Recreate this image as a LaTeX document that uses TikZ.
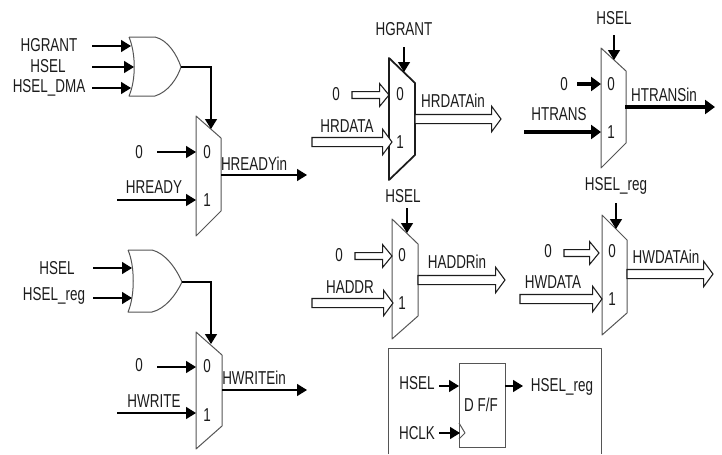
\documentclass[tikz,border=0pt]{standalone}
\usepackage{fontspec}
\setmainfont[FakeStretch=0.72]{Liberation Sans}
\usetikzlibrary{arrows.meta,calc}
\definecolor{ink}{HTML}{1C1C1C}
\definecolor{edge}{HTML}{555555}
\tikzset{
  x=0.75pt,y=-0.75pt,
  lbl/.style={inner sep=0pt,text=ink,font=\fontsize{14pt}{15pt}\selectfont},
  gate/.style={draw=edge,line width=0.75pt,line join=round},
  wire/.style={draw=black,line width=1.1pt,-{Triangle[length=7.5pt,width=9pt]}},
  heavy/.style={draw=black,line width=2.4pt,-{Triangle[length=7.5pt,width=10.5pt]}},
  bus/.style={draw=ink,line width=0.8pt,fill=white,line join=miter},
}
% \mymux{name}{xl}{ytl}{xr}{ytr}{ybr}{ybl}{style}
\newcommand{\mymux}[8]{%
  \draw[gate,#8] (#2,#3) coordinate (#1-tl) -- (#4,#5) -- (#4,#6) -- (#2,#7) -- cycle;
}
% hollow bus arrow between two named coordinates: half shaft, half head, head length (pt)
\newcommand{\busarrow}[5]{%
  \path[bus] let \p1=(#1),\p2=(#2) in
    (\x1,\y1+#3) -- (\x2-#5,\y1+#3) -- (\x2-#5,\y1+#4) -- (\x2,\y1)
    -- (\x2-#5,\y1-#4) -- (\x2-#5,\y1-#3) -- (\x1,\y1-#3) -- cycle;
}
\begin{document}
\begin{tikzpicture}
\useasboundingbox[fill=white] (0,0) rectangle (722,454);

% ---- OR gates
\draw[gate] (129,37) -- (155,37) .. controls (168,40) and (177,55) .. (181,67)
  .. controls (177,79) and (168,92) .. (155,96) -- (129,96)
  .. controls (136,80) and (136,54) .. (129,37);
\draw[gate] (128,250) -- (152,250) .. controls (165,253) and (176,268) .. (182,282)
  .. controls (176,295) and (165,309) .. (152,312) -- (128,312)
  .. controls (135,296) and (135,266) .. (128,250);

% ---- multiplexers
\mymux{mA}{196}{116}{221}{138}{211}{236}{}
\mymux{mB}{389}{58}{415}{83}{155}{180}{draw=ink,line width=1.3pt}
\mymux{mC}{601}{48}{626}{71}{143}{168}{}
\mymux{mD}{392}{219}{418}{244}{316}{339}{}
\mymux{mE}{602}{215}{627}{240}{313}{335}{}
\mymux{mF}{196}{332}{222}{355}{426}{449}{}

% ---- flip-flop box
\draw[gate] (388,454) -- (388,348) -- (601,348) -- (601,454);
\node[draw=edge,line width=0.75pt,minimum width=34.5pt,minimum height=63pt,inner sep=0pt,anchor=north west] (ff) at (459,363) {};
\draw[gate] (459,423) -- (465,433) -- (459,439);

% ---- labels
\node[lbl] (tHGRANT) at (49,45) {HGRANT};
\node[lbl] (tHSELa) at (48,66) {HSEL};
\node[lbl] (tDMA) at (49,88) {HSEL\_DMA};
\node[lbl] (tZa) at (139,152) {0};
\node[lbl] (tHREADY) at (154,187) {HREADY};
\node[lbl] (a0) at (207,152) {0};
\node[lbl] (a1) at (207,200) {1};
\node[lbl] (tRin) at (254,164) {HREADYin};

\node[lbl] (tHSELb) at (57,268) {HSEL};
\node[lbl] (tREG) at (54,296) {HSEL\_reg};
\node[lbl] (tZf) at (139,365) {0};
\node[lbl] (tHWRITE) at (154,401) {HWRITE};
\node[lbl] (f0) at (207,366) {0};
\node[lbl] (f1) at (207,415) {1};
\node[lbl] (tWin) at (254,378) {HWRITEin};

\node[lbl] (tGr) at (404,29) {HGRANT};
\node[lbl] (tZb) at (336,94) {0};
\node[lbl] (tHRD) at (347,126) {HRDATA};
\node[lbl] (b0) at (400,94) {0};
\node[lbl] (b1) at (400,142) {1};
\node[lbl] (tRDin) at (453,101) {HRDATAin};

\node[lbl] (tSc) at (614,18) {HSEL};
\node[lbl] (tZc) at (564,84) {0};
\node[lbl] (tTR) at (559,114) {HTRANS};
\node[lbl] (c0) at (611,84) {0};
\node[lbl] (c1) at (611,132) {1};
\node[lbl] (tTRin) at (664,95) {HTRANSin};

\node[lbl] (tSd) at (403,196) {HSEL};
\node[lbl] (tZd) at (339,255) {0};
\node[lbl] (tAD) at (350,287) {HADDR};
\node[lbl] (d0) at (402,255) {0};
\node[lbl] (d1) at (402,303) {1};
\node[lbl] (tADin) at (457,262) {HADDRin};

\node[lbl] (tSe) at (616,186) {HSEL\_reg};
\node[lbl] (tZe) at (548,251) {0};
\node[lbl] (tWD) at (553,282) {HWDATA};
\node[lbl] (e0) at (612,251) {0};
\node[lbl] (e1) at (612,299) {1};
\node[lbl] (tWDin) at (666,257) {HWDATAin};

\node[lbl] (tFFi) at (417,383) {HSEL};
\node[lbl] (tFFo) at (562,387) {HSEL\_reg};
\node[lbl] (tFF) at (481,405) {D F/F};
\node[lbl] (tCK) at (417,433) {HCLK};

% ---- connector end points
\foreach \n/\x/\y in {
  p1/92/46,q1/131/46,p2/92/67,q2/134/67,p3/92/88,q3/131/88,
  orA/181/67,kA/211/67,sA/211/129,
  a0s/157/152,a0e/196/152,a1s/117/200,a1e/196/200,aos/221/175,aoe/307/175,
  p4/93/268,q4/132/268,p5/93/298,q5/132/298,
  orF/182/282,kF/211/282,sF/211/344,
  f0s/157/367,f0e/196/367,f1s/117/413,f1e/196/413,fos/222/390,foe/307/390,
  bss/404/47,bse/404/72,b0s/352/95,b0e/389/95,b1s/312/142,b1e/392/142,bos/415/119,boe/501/119,
  css/614/35,cse/614/60,c0s/577/84,c0e/601/84,c1s/524/132,c1e/601/132,cos/625/107,coe/715/107,
  dss/407/208,dse/407/233,d0s/355/256,d0e/392/256,d1s/312/303,d1e/393/303,dos/418/280,doe/505/280,
  ess/616/203,ese/616/229,e0s/564/253,e0e/599/253,e1s/520/299,e1e/602/299,eos/627/274,eoe/713/274,
  ffa/439/386,ffb/459/386,ffc/505/386,ffd/523/386,ffe/439/433,fff/460/433}
  {\coordinate (\n) at (\x,\y);}

% ---- thin wires
\draw[wire] (p1) -- (q1);
\draw[wire] (p2) -- (q2);
\draw[wire] (p3) -- (q3);
\draw[wire] (orA) -- (kA) -- (sA);
\draw[wire] (a0s) -- (a0e);
\draw[wire] (a1s) -- (a1e);
\draw[wire] (aos) -- (aoe);
\draw[wire] (p4) -- (q4);
\draw[wire] (p5) -- (q5);
\draw[wire] (orF) -- (kF) -- (sF);
\draw[wire] (f0s) -- (f0e);
\draw[wire] (f1s) -- (f1e);
\draw[wire] (fos) -- (foe);
\draw[wire] (bss) -- (bse);
\draw[wire] (css) -- (cse);
\draw[wire] (dss) -- (dse);
\draw[wire] (ess) -- (ese);
\draw[wire] (ffa) -- (ffb);
\draw[wire] (ffc) -- (ffd);
\draw[wire] (ffe) -- (fff);

% ---- heavy wires
\draw[heavy] (c0s) -- (c0e);
\draw[heavy] (c1s) -- (c1e);
\draw[heavy] (cos) -- (coe);

% ---- hollow buses
\busarrow{b0s}{b0e}{2.6pt}{8.5pt}{7pt}
\busarrow{b1s}{b1e}{3.4pt}{9.5pt}{7pt}
\busarrow{bos}{boe}{3.4pt}{9.5pt}{7pt}
\busarrow{d0s}{d0e}{2.6pt}{8.5pt}{7pt}
\busarrow{d1s}{d1e}{3.4pt}{9.5pt}{7pt}
\busarrow{dos}{doe}{3.4pt}{9.5pt}{7pt}
\busarrow{e0s}{e0e}{2.6pt}{8.5pt}{7pt}
\busarrow{e1s}{e1e}{3.4pt}{9.5pt}{7pt}
\busarrow{eos}{eoe}{3.4pt}{9.5pt}{7pt}
\end{tikzpicture}
\end{document}
